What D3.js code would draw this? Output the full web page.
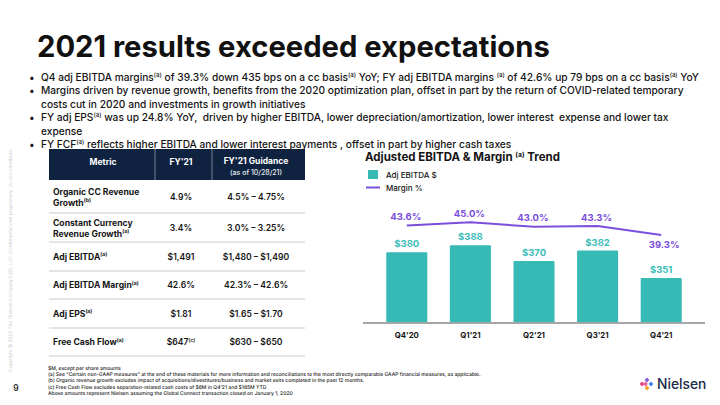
<!DOCTYPE html>
<html><head><meta charset="utf-8">
<script src="https://cdn.jsdelivr.net/npm/d3@7"></script>
<style>
html,body{margin:0;padding:0;background:#fff;}
svg text{font-family:Inter,"Noto Sans",sans-serif;white-space:pre;}
</style></head>
<body><svg id="c" width="720" height="405"></svg>
<script>
// ---- data ----
const quarters = ["Q4'20","Q1'21","Q2'21","Q3'21","Q4'21"];
const ebitda = [380,388,370,382,351];
const margins = [43.6,45.0,43.0,43.3,39.3];
const metricLabels = [["Organic CC Revenue","Growth{(b)}"],["Constant Currency","Revenue Growth{(a)}"],["Adj EBITDA{(a)}"],["Adj EBITDA Margin{(a)}"],["Adj EPS{(a)}"],["Free Cash Flow{(a)}"]];
const fy21 = ["4.9%","3.4%","$1,491","42.6%","$1.81","$647{(c)}"];
const guidance = ["4.5% \u2013 4.75%","3.0% \u2013 3.25%","$1,480 \u2013 $1,490","42.3% \u2013 42.6%","$1.65 \u2013 $1.70","$630 \u2013 $650"];
const headers = ["Metric","FY'21","FY'21 Guidance"];
const headerSub = "(as of 10/28/21)";
const bullets = [
 ["Q4 adj EBITDA margins{(a)} of 39.3% down 435 bps on a cc basis{(a)} YoY; FY adj EBITDA margins {(a)} of 42.6% up 79 bps on a cc basis{(a)} YoY"],
 ["Margins driven by revenue growth, benefits from the 2020 optimization plan, offset in part by the return of COVID-related temporary","costs cut in 2020 and investments in growth initiatives"],
 ["FY adj EPS{(a)} was up 24.8% YoY,  driven by higher EBITDA, lower depreciation/amortization, lower interest  expense and lower tax","expense"],
 ["FY FCF{(a)} reflects higher EBITDA and lower interest payments , offset in part by higher cash taxes"]
];
const footnotes = [
 "$M, except per share amounts",
 "(a) See \u201cCertain non-GAAP measures\u201d at the end of these materials for more information and reconciliations to the most directly comparable GAAP financial measures, as applicable.",
 "(b) Organic revenue growth excludes impact of acquisitions/divestitures/business and market exits completed in the past 12 months.",
 "(c) Free Cash Flow excludes separation-related cash costs of $6M in Q4\u201921 and $165M YTD",
 "Above amounts represent Nielsen assuming the Global Connect transaction closed on January 1, 2020"
];
const legendItems = ["Adj EBITDA $","Margin %"];

const TEAL="#37b9b6", PURPLE="#7b4fdc", NAVY="#0f2341", INK="#141414";
const svg = d3.select("#c");

function rich(t, str, size){
  const parts = str.split(/(\{[^}]*\})/).filter(s=>s.length);
  let shifted=false;
  parts.forEach(p=>{
    if(p[0]==="{"){
      t.append("tspan").attr("font-size",size*0.6).attr("dy",-size*0.38).text(p.slice(1,-1));
      shifted=true;
    } else {
      const s=t.append("tspan").text(p);
      if(shifted){s.attr("dy",size*0.38);shifted=false;}
    }
  });
  return t;
}

// title
svg.append("text").attr("x",37).attr("y",57).attr("font-size",29.2).attr("font-weight",700)
  .attr("fill","#111").text("2021 results exceeded expectations");

// bullets
const bSize=10.2;
let by=80.5;
bullets.forEach(lines=>{
  svg.append("text").attr("x",29).attr("y",by).attr("font-size",bSize).attr("fill",INK).text("\u2022");
  lines.forEach(l=>{
    rich(svg.append("text").attr("x",41).attr("y",by).attr("font-size",bSize).attr("fill",INK).attr("font-weight",500),l,bSize);
    by+=13.5;
  });
});

// table
const colX=[49,155,212,305];
const rowY=[180,213,242,271,299,328,356];
svg.append("rect").attr("x",colX[0]).attr("y",149).attr("width",colX[3]-colX[0]).attr("height",31).attr("fill",NAVY);
[colX[1],colX[2]].forEach(x=>svg.append("line").attr("x1",x).attr("x2",x).attr("y1",149).attr("y2",180).attr("stroke","#8a97ab").attr("stroke-width",0.8));
const hs=8.5;
svg.append("text").attr("x",103).attr("y",165).attr("text-anchor","middle").attr("font-size",hs).attr("font-weight",700).attr("fill","#fff").text(headers[0]);
svg.append("text").attr("x",181).attr("y",165).attr("text-anchor","middle").attr("font-size",hs).attr("font-weight",700).attr("fill","#fff").text(headers[1]);
svg.append("text").attr("x",256).attr("y",164).attr("text-anchor","middle").attr("font-size",hs).attr("font-weight",700).attr("fill","#fff").text(headers[2]);
svg.append("text").attr("x",256).attr("y",175).attr("text-anchor","middle").attr("font-size",7).attr("font-weight",500).attr("fill","#e8ecf2").text(headerSub);
const ts=8.6;
metricLabels.forEach((lab,i)=>{
  const y0=rowY[i], y1=rowY[i+1], cy=(y0+y1)/2;
  svg.append("line").attr("x1",colX[0]).attr("x2",colX[3]).attr("y1",y1).attr("y2",y1).attr("stroke","#dcdcdc").attr("stroke-width",1.6);
  if(lab.length===2){
    rich(svg.append("text").attr("x",53).attr("y",cy-2).attr("font-size",ts).attr("font-weight",700).attr("fill",INK),lab[0],ts);
    rich(svg.append("text").attr("x",53).attr("y",cy+9).attr("font-size",ts).attr("font-weight",700).attr("fill",INK),lab[1],ts);
  } else {
    rich(svg.append("text").attr("x",53).attr("y",cy+3.2).attr("font-size",ts).attr("font-weight",700).attr("fill",INK),lab[0],ts);
  }
  rich(svg.append("text").attr("x",181).attr("y",cy+3.2).attr("text-anchor","middle").attr("font-size",ts).attr("font-weight",600).attr("fill",INK),fy21[i],ts);
  svg.append("text").attr("x",256).attr("y",cy+3.2).attr("text-anchor","middle").attr("font-size",ts).attr("font-weight",600).attr("fill",INK).text(guidance[i]);
});

// right chart
rich(svg.append("text").attr("x",365).attr("y",161).attr("font-size",11.5).attr("font-weight",700).attr("fill",INK),"Adjusted EBITDA & Margin {(a)} Trend",11.5);
svg.append("rect").attr("x",368).attr("y",170).attr("width",10).attr("height",9).attr("fill",TEAL);
svg.append("text").attr("x",386).attr("y",178).attr("font-size",8).attr("font-weight",500).attr("fill",INK).text(legendItems[0]);
svg.append("line").attr("x1",366).attr("x2",380).attr("y1",187.5).attr("y2",187.5).attr("stroke",PURPLE).attr("stroke-width",2);
svg.append("text").attr("x",386).attr("y",190.5).attr("font-size",8).attr("font-weight",500).attr("fill",INK).text(legendItems[1]);

const x = d3.scaleBand().domain(quarters).range([375,693]).paddingInner(0.355).paddingOuter(0.1775);
const yB = d3.scaleLinear().domain([300,400]).range([323,234.6]);
const yM = d3.scaleLinear().domain([35,50]).range([244.6,211.15]);

svg.selectAll("rect.bar").data(quarters).join("rect").attr("class","bar")
  .attr("x",d=>x(d)).attr("width",x.bandwidth())
  .attr("y",(d,i)=>yB(ebitda[i])).attr("height",(d,i)=>yB(300)-yB(ebitda[i]))
  .attr("fill",TEAL).attr("rx",1);
svg.selectAll("text.bl").data(quarters).join("text").attr("class","bl")
  .attr("x",d=>x(d)+x.bandwidth()/2).attr("y",(d,i)=>yB(ebitda[i])-5)
  .attr("text-anchor","middle").attr("font-size",9.5).attr("font-weight",700).attr("fill","#3dbdba")
  .text((d,i)=>"$"+ebitda[i]);

// axis
const axisG = svg.append("g").attr("transform","translate(0,323)").call(d3.axisBottom(x).tickSize(0).tickPadding(9));
axisG.select(".domain").attr("d","M363,0H705").attr("stroke","#a6a6a6").attr("stroke-width",2);
axisG.selectAll("text").attr("font-size",7.8).attr("font-weight",700).attr("fill",INK).attr("font-family","Inter");

const line = d3.line().x((d,i)=>x(quarters[i])+x.bandwidth()/2).y(d=>yM(d)).curve(d3.curveLinear);
svg.append("path").datum(margins).attr("d",line).attr("fill","none").attr("stroke",PURPLE).attr("stroke-width",2);
svg.selectAll("text.ml").data(margins).join("text").attr("class","ml")
  .attr("x",(d,i)=>x(quarters[i])+x.bandwidth()/2+(i===4?3:-1))
  .attr("y",(d,i)=>i===4? yM(d)+12.5 : yM(d)-5.5)
  .attr("text-anchor","middle").attr("font-size",9.5).attr("font-weight",700).attr("fill",PURPLE)
  .text(d=>d.toFixed(1)+"%");

// footnotes
footnotes.forEach((f,i)=>{
  svg.append("text").attr("x",48).attr("y",370+i*6.2).attr("font-size",5.0).attr("font-weight",500)
    .attr("text-rendering","geometricPrecision").attr("fill","#222").text(f);
});

// side copyright + page number
svg.append("text").attr("transform","translate(12,372) rotate(-90)").attr("font-size",4.8).attr("fill","#cfcfcf")
  .attr("text-rendering","geometricPrecision")
  .text("Copyright \u00a9 2022 The Nielsen Company (US), LLC. Confidential and proprietary. Do not distribute.");
svg.append("text").attr("x",16).attr("y",391).attr("text-anchor","middle").attr("font-size",8.5).attr("font-weight",600).attr("fill","#333").text("9");

// Nielsen logo
const lg = svg.append("g").attr("transform","translate(647,384)");
[[-5,0,"#e8457a"],[0,-4,"#8a5cd6"],[0,4,"#f5a623"],[4,0,"#3a86e0"],[-1.5,0,"#e85b9a"]].forEach(([dx,dy,c])=>{
  lg.append("rect").attr("x",dx-1.7).attr("y",dy-1.7).attr("width",3.4).attr("height",3.4).attr("fill",c).attr("transform",`rotate(45,${dx},${dy})`);
});
svg.append("text").attr("x",657).attr("y",389).attr("font-size",13.8).attr("font-weight",500).attr("fill","#1b2a4a").text("Nielsen");
</script></body></html>
